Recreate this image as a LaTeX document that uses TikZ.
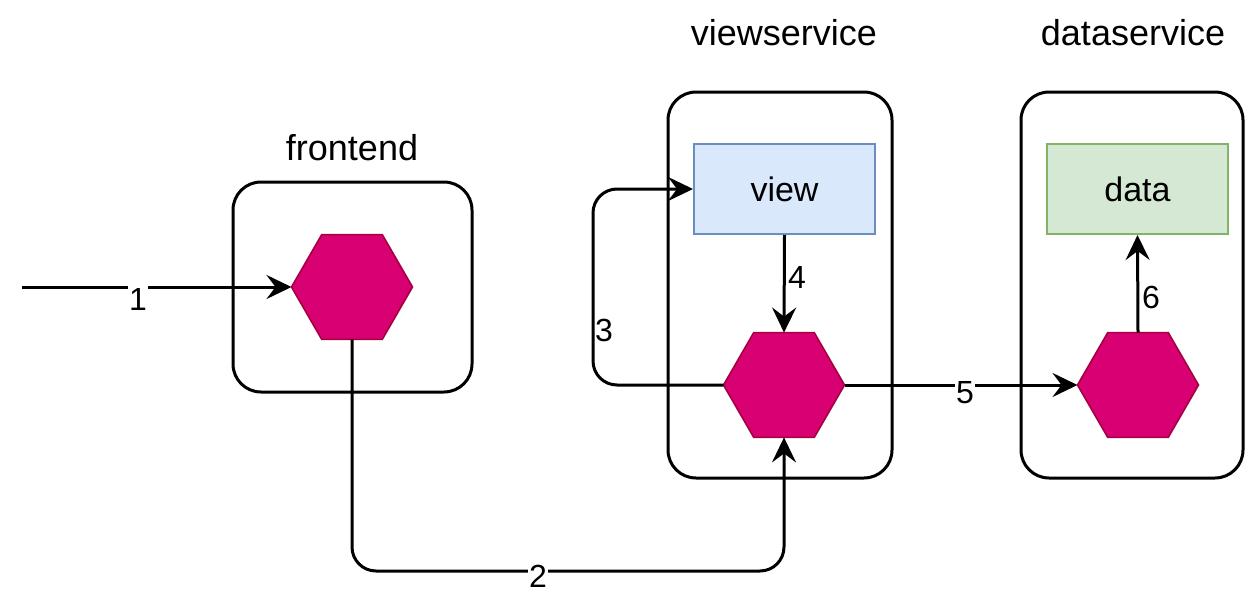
\documentclass[tikz,border=0pt]{standalone}
\usepackage{fontspec}
\setmainfont{Liberation Sans}
\usetikzlibrary{shapes.geometric,arrows.meta}
\definecolor{hexfill}{HTML}{D80073}
\definecolor{hexline}{HTML}{A50040}
\definecolor{viewfill}{HTML}{DAE8FC}
\definecolor{viewline}{HTML}{6C8EBF}
\definecolor{datafill}{HTML}{D5E8D4}
\definecolor{dataline}{HTML}{82B366}
\tikzset{
  container/.style={draw=black, line width=3pt, rounded corners=28pt, inner sep=0pt, fill=none},
  hexa/.style={regular polygon, regular polygon sides=6, minimum size=121pt, inner sep=0pt, outer sep=0pt, fill=hexfill, draw=hexline, line width=1.6pt},
  svcbox/.style={rectangle, minimum width=181pt, minimum height=90pt, inner sep=0pt, line width=2pt, font=\fontsize{34}{40}\selectfont},
  title/.style={font=\fontsize{36}{42}\selectfont, inner sep=0pt},
  num/.style={font=\fontsize{32}{36}\selectfont, inner sep=1.5pt},
  arr/.style={line width=3pt, -{Stealth[length=25pt,width=24pt,inset=9pt]}, rounded corners=24pt},
}
\begin{document}
\begin{tikzpicture}[x=1pt,y=-1pt]
\useasboundingbox[fill=white] (0,0) rectangle (1248,597);
% containers
\node[container, minimum width=239pt, minimum height=210pt] (fbox) at (352.5,287) {};
\node[container, minimum width=224pt, minimum height=386pt] (vbox) at (780,285) {};
\node[container, minimum width=222pt, minimum height=386pt] (dbox) at (1132,285) {};
% titles
\node[title] (ft) at (352,148) {frontend};
\node[title] (vt) at (784,33) {viewservice};
\node[title] (dt) at (1133,33) {dataservice};
% inner nodes
\node[hexa] (fh) at (352,287) {};
\node[svcbox, fill=viewfill, draw=viewline] (view) at (784.5,189) {view};
\node[hexa] (vh) at (784,385) {};
\node[svcbox, fill=datafill, draw=dataline] (data) at (1137.5,189) {data};
\node[hexa] (dh) at (1138,385) {};
% helper coordinates
\coordinate (start) at (22,287);
\coordinate (c2) at (538,571);
\coordinate (c3) at (593,189);
% connectors
\draw[arr] (start) -- (fh.west);
\draw[arr] (fh.south) |- (c2) -| (vh.south);
\draw[arr] (vh.west) -| (c3) -- (view.west);
\draw[arr] (view.south) -- (vh.north);
\draw[arr] (vh.east) -- (dh.west);
\draw[arr] (dh.north) -- (data.south);
% labels
\node[num, fill=white] (l1) at (138,299) {1};
\node[num, fill=white] (l2) at (538,576) {2};
\node[num] (l3) at (604,330) {3};
\node[num] (l4) at (797,277) {4};
\node[num, fill=white] (l5) at (965,393) {5};
\node[num] (l6) at (1151,297) {6};
\end{tikzpicture}
\end{document}
